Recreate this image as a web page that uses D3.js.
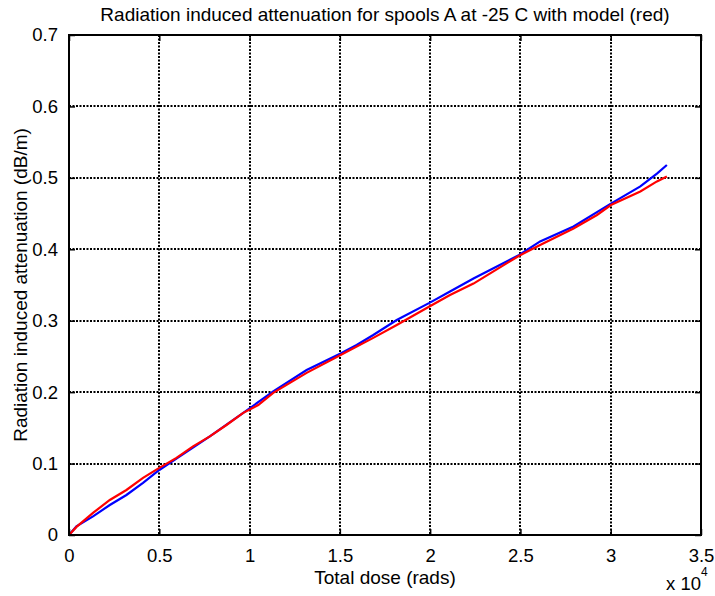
<!DOCTYPE html>
<html>
<head>
<meta charset="utf-8">
<script src="https://cdn.jsdelivr.net/npm/d3@7"></script>
<style>
  html, body { margin: 0; padding: 0; background: #fff; }
  svg { display: block; font-family: "Liberation Sans", Arial, Helvetica, sans-serif; }
</style>
</head>
<body>
<svg id="chart" width="715" height="596"></svg>
<script>
// ---- Data ----
const titleText = "Radiation induced attenuation for spools A at -25 C with model (red)";
const xLabelText = "Total dose (rads)";
const yLabelText = "Radiation induced attenuation (dB/m)";

const xTicks = [0, 5000, 10000, 15000, 20000, 25000, 30000, 35000];
const xTickLabels = ["0", "0.5", "1", "1.5", "2", "2.5", "3", "3.5"];
const yTicks = [0, 0.1, 0.2, 0.3, 0.4, 0.5, 0.6, 0.7];
const yTickLabels = ["0", "0.1", "0.2", "0.3", "0.4", "0.5", "0.6", "0.7"];

// measured (blue)
const doseBlue = [0, 410, 1330, 2260, 3180, 4100, 5000, 5950, 7800, 9650, 11310, 13160, 15040, 15930, 16850, 18150, 19960, 21100, 22400, 24930, 26090, 27940, 30010, 31640, 32560, 33110];
const attenBlue = [0, 0.012, 0.026, 0.042, 0.056, 0.073, 0.091, 0.107, 0.138, 0.171, 0.201, 0.231, 0.254, 0.266, 0.280, 0.301, 0.325, 0.341, 0.359, 0.392, 0.411, 0.432, 0.464, 0.488, 0.506, 0.518];

// model (red)
const doseRed = [0, 400, 1330, 2260, 3180, 4100, 5000, 5950, 6870, 7800, 8720, 9650, 10480, 11310, 13160, 15040, 16850, 18150, 19960, 21100, 22400, 24930, 26090, 27940, 29240, 30010, 31640, 32560, 33110];
const attenRed = [0, 0.011, 0.031, 0.049, 0.063, 0.080, 0.094, 0.108, 0.124, 0.138, 0.154, 0.171, 0.182, 0.199, 0.227, 0.252, 0.276, 0.294, 0.320, 0.336, 0.352, 0.391, 0.406, 0.429, 0.448, 0.462, 0.481, 0.495, 0.502];

// ---- Layout ----
const svg = d3.select("#chart");
const L = 69, R = 701, T = 35, B = 535;
const FS = 18.5, FSL = 19;

const x = d3.scaleLinear().domain([0, 35000]).range([L, R]);
const y = d3.scaleLinear().domain([0, 0.7]).range([B, T]);

// grid lines
const grid = svg.append("g");
grid.selectAll("line.gx").data(xTicks.slice(1, -1)).join("line")
  .attr("x1", d => Math.round(x(d))).attr("x2", d => Math.round(x(d)))
  .attr("y1", T).attr("y2", B)
  .attr("stroke", "#000").attr("stroke-width", 2)
  .attr("stroke-dasharray", "2,1.5");
grid.selectAll("line.gy").data(yTicks.slice(1, -1)).join("line")
  .attr("y1", d => Math.round(y(d))).attr("y2", d => Math.round(y(d)))
  .attr("x1", L).attr("x2", R)
  .attr("stroke", "#000").attr("stroke-width", 2)
  .attr("stroke-dasharray", "2,1.5");

// curves
const blueData = doseBlue.map((d, i) => [d, attenBlue[i]]);
const redData = doseRed.map((d, i) => [d, attenRed[i]]);
const line = d3.line().x(d => x(d[0])).y(d => y(d[1]));

svg.append("path").datum(blueData).attr("d", line)
  .attr("fill", "none").attr("stroke", "#0000ff").attr("stroke-width", 2.2);
svg.append("path").datum(redData).attr("d", line)
  .attr("fill", "none").attr("stroke", "#ff0000").attr("stroke-width", 2.2);

// axes with inward ticks
const xAxisB = d3.axisBottom(x).tickValues(xTicks).tickSize(-6).tickSizeOuter(0)
  .tickFormat((d, i) => xTickLabels[i]).tickPadding(14);
const gxb = svg.append("g").attr("transform", `translate(0,${B})`).call(xAxisB);
const xAxisT = d3.axisTop(x).tickValues(xTicks).tickSize(-6).tickSizeOuter(0).tickFormat("");
const gxt = svg.append("g").attr("transform", `translate(0,${T})`).call(xAxisT);
const yAxisL = d3.axisLeft(y).tickValues(yTicks).tickSize(-6).tickSizeOuter(0)
  .tickFormat((d, i) => yTickLabels[i]).tickPadding(11);
const gyl = svg.append("g").attr("transform", `translate(${L},0)`).call(yAxisL);
const yAxisR = d3.axisRight(y).tickValues(yTicks).tickSize(-6).tickSizeOuter(0).tickFormat("");
const gyr = svg.append("g").attr("transform", `translate(${R},0)`).call(yAxisR);

[gxb, gxt, gyl, gyr].forEach(g => {
  g.select(".domain").remove();
  g.selectAll(".tick line").attr("stroke", "#000").attr("stroke-width", 1.5);
  g.selectAll(".tick text").attr("fill", "#000").attr("font-size", FS)
    .attr("font-family", "Liberation Sans, Arial, sans-serif");
});

// box
svg.append("rect").attr("x", L).attr("y", T).attr("width", R - L).attr("height", B - T)
  .attr("fill", "none").attr("stroke", "#000").attr("stroke-width", 2);

// title
svg.append("text").attr("x", (L + R) / 2).attr("y", 20.5)
  .attr("text-anchor", "middle").attr("font-size", FSL).attr("fill", "#000")
  .text(titleText);

// x label
svg.append("text").attr("x", (L + R) / 2).attr("y", 584)
  .attr("text-anchor", "middle").attr("font-size", FSL).attr("fill", "#000")
  .text(xLabelText);

// exponent label
const ex = svg.append("text").attr("x", 666).attr("y", 590)
  .attr("font-size", FS).attr("fill", "#000");
ex.append("tspan").text("x 10");
ex.append("tspan").attr("dy", -14).attr("font-size", 12).text("4");

// y label
svg.append("text")
  .attr("transform", `translate(27,${(T + B) / 2}) rotate(-90)`)
  .attr("text-anchor", "middle").attr("font-size", FSL).attr("fill", "#000")
  .text(yLabelText);
</script>
</body>
</html>
